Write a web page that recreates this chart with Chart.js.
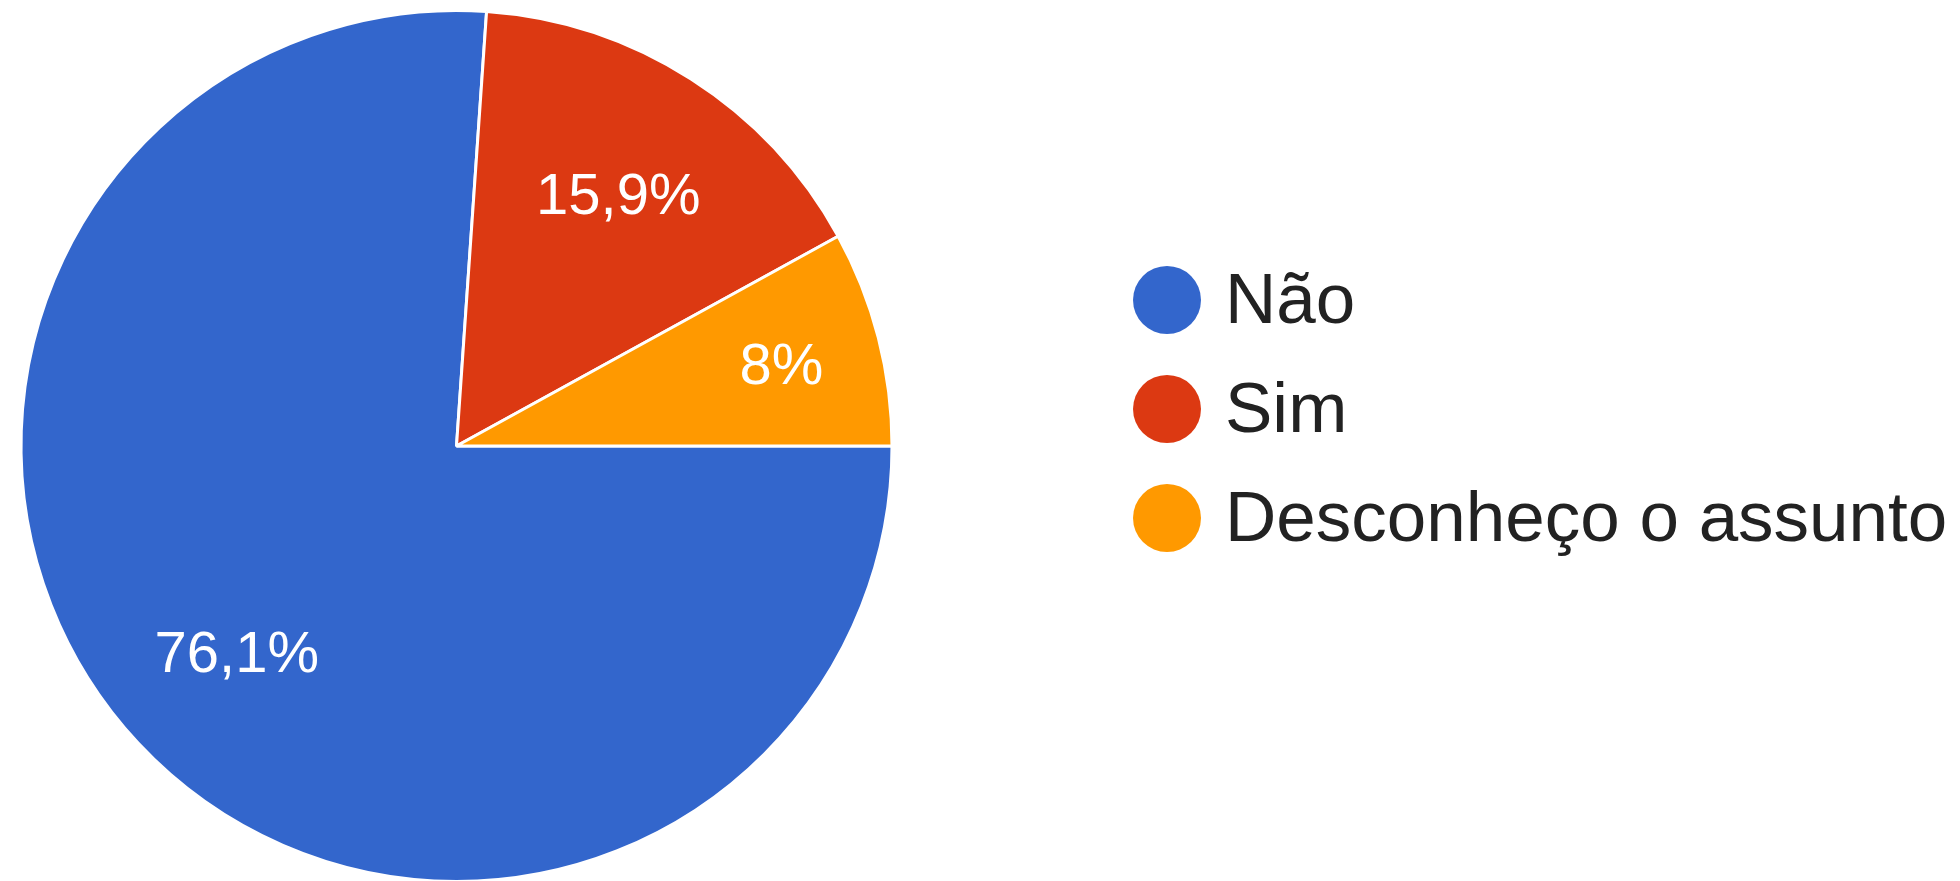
<!DOCTYPE html>
<html>
<head>
<meta charset="utf-8">
<script src="https://cdn.jsdelivr.net/npm/chart.js@4.4.1/dist/chart.umd.min.js"></script>
<style>
    html, body { margin: 0; padding: 0; background: #ffffff; overflow: hidden; }
    #wrap { width: 1960px; height: 895px; }
</style>
</head>
<body>
<div id="wrap"><canvas id="pie" width="1960" height="895"></canvas></div>
<script>
var labels = ["Não", "Sim", "Desconheço o assunto"];
var values = [76.1, 15.9, 8.0];
var colors = ["#3366CC", "#DC3912", "#FF9900"];

function pctText(v, total) {
    var p = Math.round(v / total * 1000) / 10;
    return String(p).replace(".", ",") + "%";
}

// percentage labels inside the slices
var sliceLabels = {
    id: "sliceLabels",
    afterDatasetsDraw: function (chart) {
        var ctx = chart.ctx;
        var meta = chart.getDatasetMeta(0);
        var data = chart.data.datasets[0].data;
        var total = data.reduce(function (a, b) { return a + b; }, 0);
        ctx.save();
        ctx.fillStyle = "#ffffff";
        ctx.font = "58px 'Liberation Sans', Arial, sans-serif";
        ctx.textAlign = "center";
        ctx.textBaseline = "alphabetic";
        meta.data.forEach(function (arc, i) {
            var p = arc.getProps(["x", "y", "startAngle", "endAngle", "outerRadius"], true);
            var mid = (p.startAngle + p.endAngle) / 2;
            var f = data[i] / total < 0.1 ? 0.77 : 0.69;
            var x = p.x + Math.cos(mid) * p.outerRadius * f;
            var y = p.y + Math.sin(mid) * p.outerRadius * f;
            ctx.fillText(pctText(data[i], total), x, y + 21);
        });
        ctx.restore();
    }
};

// legend on the right
var sideLegend = {
    id: "sideLegend",
    afterDraw: function (chart) {
        var ctx = chart.ctx;
        var ds = chart.data.datasets[0];
        ctx.save();
        ctx.font = "71px 'Liberation Sans', Arial, sans-serif";
        ctx.textAlign = "left";
        ctx.textBaseline = "alphabetic";
        chart.data.labels.forEach(function (name, i) {
            var cy = 300 + i * 109;
            ctx.fillStyle = ds.backgroundColor[i];
            ctx.beginPath();
            ctx.arc(1167, cy, 34, 0, Math.PI * 2);
            ctx.fill();
            ctx.fillStyle = "#222222";
            ctx.fillText(name, 1225, cy + 23);
        });
        ctx.restore();
    }
};

var chart = new Chart(document.getElementById("pie"), {
    type: "pie",
    data: {
        labels: labels,
        datasets: [{
            data: values,
            backgroundColor: colors,
            borderColor: "#ffffff",
            borderWidth: 3
        }]
    },
    options: {
        responsive: false,
        animation: false,
        events: [],
        rotation: 90,
        layout: { padding: { left: 19, right: 1066, top: 9, bottom: 12 } },
        plugins: {
            legend: { display: false },
            tooltip: { enabled: false }
        }
    },
    plugins: [sliceLabels, sideLegend]
});
</script>
</body>
</html>
